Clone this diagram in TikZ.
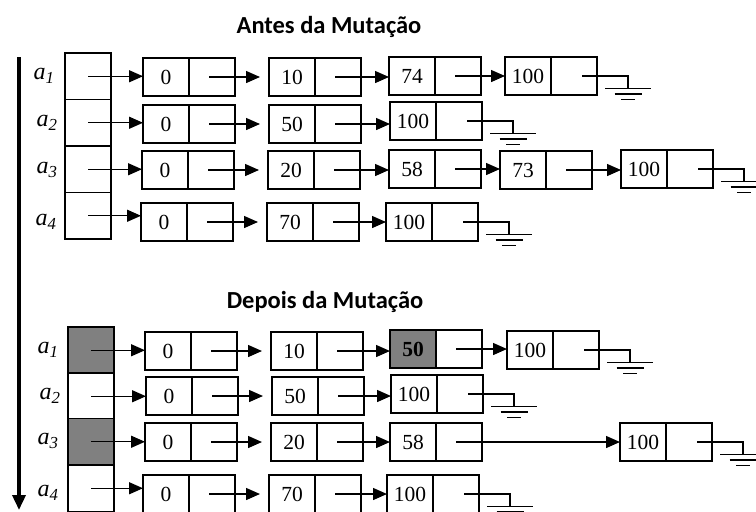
\documentclass[tikz,border=0pt]{standalone}
\usepackage{fontspec}
\setmainfont{Liberation Serif}
\newfontfamily\titlefont{Carlito}
\usetikzlibrary{arrows.meta}

\definecolor{shade}{HTML}{808080}

\tikzset{
  cellbox/.style={draw, line width=1.2pt, minimum width=46pt, minimum height=38pt,
    inner sep=0pt, outer sep=0pt, anchor=north west, font=\fontsize{21.5}{21.5}\selectfont},
  arrcell/.style={draw, line width=1.2pt, minimum width=46pt, minimum height=46.5pt,
    inner sep=0pt, outer sep=0pt, anchor=north west},
  hit/.style={fill=shade},
  link/.style={line width=1.4pt, -{Triangle[length=14pt,width=12pt]}},
  wire/.style={line width=1.1pt},
  lbl/.style={font=\fontsize{24}{24}\selectfont\itshape, inner sep=0pt},
  heading/.style={font=\titlefont\bfseries\fontsize{24.5}{24.5}\selectfont, anchor=base, inner sep=0pt},
  timeline/.style={line width=3.5pt, -{Triangle[length=15pt,width=13pt]}}
}

% list element: value half (#1v) and pointer half (#1p)
\newcommand\elem[5][]{%
  \node[cellbox,#1] (#2v) at (#3,#4) {#5};
  \node[cellbox] (#2p) at (#2v.north east) {};
}
% the leading zero sits a little low in its cell
\newcommand\zero{\raisebox{-4.5pt}{0}}
% pointer from one element to the next
\newcommand\link[3][]{\draw[link,#1] ([xshift=-3pt]#2p.center) -- (#2p.center -| #3v.west);}
% array slot pointing at the first element
\newcommand\head[2]{\draw[link] (#1.center) -- (#1.center -| #2v.west);}
% null pointer drawn as a ground symbol
\newcommand\nil[1]{%
  \draw[wire] ([xshift=8pt]#1p.center) -- ([xshift=31pt]#1p.center -| #1p.east) coordinate (#1g) -- ++(0,12.5);
  \draw[wire] ([shift={(-23,12.5)}]#1g) -- ++(46,0);
  \draw[wire] ([shift={(-13.5,18)}]#1g) -- ++(27,0);
  \draw[wire] ([shift={(-7,23.5)}]#1g) -- ++(14,0);
}

\begin{document}
\begin{tikzpicture}[x=1pt,y=-1pt]
\clip (0,0) rectangle (756,512);
\fill[white] (0,0) rectangle (756,512);

% time axis
\draw[timeline] (19,57) -- (19,510);

% ---------- before ----------
\node[heading] (t1) at (329,33) {Antes da Mutação};

\node[arrcell] (A1) at (65,53) {};
\node[arrcell] (A2) at (65,99.5) {};
\node[arrcell] (A3) at (65,146) {};
\node[arrcell] (A4) at (65,192.5) {};
\node[lbl] (la1) at (44,76) {a\textsubscript{1}};
\node[lbl] (la2) at (47,123) {a\textsubscript{2}};
\node[lbl] (la3) at (47,170) {a\textsubscript{3}};
\node[lbl] (la4) at (46,222) {a\textsubscript{4}};

\elem{p11}{143}{58}{\zero}
\elem{p12}{269}{58}{10}
\elem{p13}{389}{57}{74}
\elem{p14}{505}{57}{100}
\head{A1}{p11} \link[shorten >=9pt]{p11}{p12} \link{p12}{p13} \link{p13}{p14} \nil{p14}

\elem{p21}{143}{105}{\zero}
\elem{p22}{269}{105}{50}
\elem{p23}{390}{102}{100}
\head{A2}{p21} \link[shorten >=9pt]{p21}{p22} \link{p22}{p23} \nil{p23}

\elem{p31}{142}{151}{\zero}
\elem{p32}{268}{151}{20}
\elem{p33}{389}{150}{58}
\elem{p34}{500}{151}{73}
\elem{p35}{621}{150}{100}
\head{A3}{p31} \link[shorten >=9pt]{p31}{p32} \link{p32}{p33} \link{p33}{p34} \link{p34}{p35} \nil{p35}

\elem{p41}{141}{203}{\zero}
\elem{p42}{267}{203}{70}
\elem{p43}{386}{203}{100}
\head{A4}{p41} \link[shorten >=9pt]{p41}{p42} \link{p42}{p43} \nil{p43}

% ---------- after ----------
\node[heading] (t2) at (325,308) {Depois da Mutação};

\node[arrcell,hit] (B1) at (68,327) {};
\node[arrcell] (B2) at (68,373) {};
\node[arrcell,hit] (B3) at (68,418.5) {};
\node[arrcell] (B4) at (68,465) {};
\node[lbl] (lb1) at (48,350) {a\textsubscript{1}};
\node[lbl] (lb2) at (50,396) {a\textsubscript{2}};
\node[lbl] (lb3) at (48,441) {a\textsubscript{3}};
\node[lbl] (lb4) at (48,493) {a\textsubscript{4}};

\elem{q11}{145}{332}{\zero}
\elem{q12}{271}{332}{10}
\elem[hit]{q13}{390}{330}{\bfseries 50}
\elem{q14}{507}{331}{100}
\head{B1}{q11} \link[shorten >=9pt]{q11}{q12} \link{q12}{q13} \link{q13}{q14} \nil{q14}

\elem{q21}{146}{377}{\zero}
\elem{q22}{272}{377}{50}
\elem{q23}{391}{375}{100}
\head{B2}{q21} \link[shorten >=9pt]{q21}{q22} \link{q22}{q23} \nil{q23}

\elem{q31}{145}{423}{\zero}
\elem{q32}{271}{423}{20}
\elem{q33}{390}{423}{58}
\elem{q34}{620}{423}{100}
\head{B3}{q31} \link[shorten >=9pt]{q31}{q32} \link{q32}{q33} \link{q33}{q34} \nil{q34}

\elem{q41}{143}{475}{\zero}
\elem{q42}{269}{475}{70}
\elem{q43}{387}{475}{100}
\head{B4}{q41} \link[shorten >=9pt]{q41}{q42} \link{q42}{q43} \nil{q43}
\end{tikzpicture}
\end{document}
